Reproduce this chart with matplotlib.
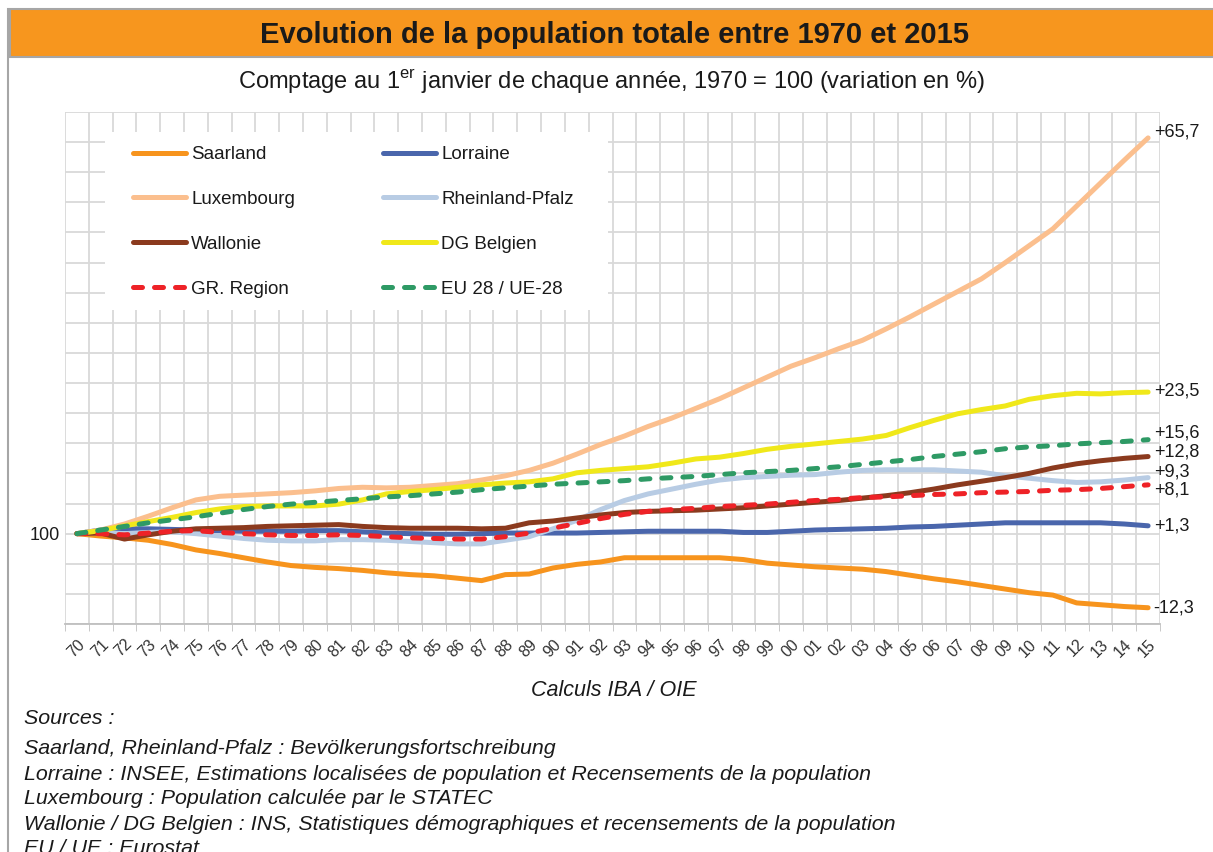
import matplotlib
matplotlib.use("Agg")
import matplotlib.pyplot as plt
from matplotlib.patches import Rectangle
from matplotlib.lines import Line2D

plt.rcParams['font.family'] = ['Liberation Sans', 'DejaVu Sans']
plt.rcParams['mathtext.fontset'] = 'custom'
plt.rcParams['mathtext.rm'] = 'Liberation Sans'

# années 1970 - 2015 (étiquettes sur 2 chiffres)
years = ['70', '71', '72', '73', '74', '75', '76', '77', '78', '79',
         '80', '81', '82', '83', '84', '85', '86', '87', '88', '89',
         '90', '91', '92', '93', '94', '95', '96', '97', '98', '99',
         '00', '01', '02', '03', '04', '05', '06', '07', '08', '09',
         '10', '11', '12', '13', '14', '15']

saarland = [100, 99.6, 99.3, 98.9, 98.2, 97.3, 96.7, 96.0, 95.3, 94.7,
            94.4, 94.2, 93.9, 93.5, 93.2, 93.0, 92.6, 92.2, 93.2, 93.3,
            94.3, 94.9, 95.3, 96.0, 96.0, 96.0, 96.0, 96.0, 95.7, 95.1,
            94.8, 94.5, 94.3, 94.1, 93.7, 93.1, 92.5, 92.0, 91.4, 90.8,
            90.2, 89.8, 88.5, 88.2, 87.9, 87.7]
lorraine = [100, 100.6, 100.8, 100.8, 100.7, 100.6, 100.5, 100.4, 100.4, 100.4,
            100.5, 100.5, 100.3, 100.1, 100.0, 99.9, 99.9, 100.0, 100.1, 100.1,
            100.1, 100.1, 100.2, 100.3, 100.4, 100.4, 100.4, 100.4, 100.2, 100.2,
            100.4, 100.6, 100.7, 100.8, 100.9, 101.1, 101.2, 101.4, 101.6, 101.8,
            101.8, 101.8, 101.8, 101.8, 101.6, 101.3]
luxembourg = [100, 100.6, 101.6, 102.9, 104.3, 105.6, 106.2, 106.4, 106.6, 106.8,
              107.1, 107.5, 107.7, 107.6, 107.7, 108.0, 108.3, 108.9, 109.6, 110.5,
              111.7, 113.2, 114.8, 116.2, 117.8, 119.2, 120.8, 122.4, 124.2, 126.0,
              127.8, 129.2, 130.7, 132.1, 134.0, 136.0, 138.1, 140.2, 142.3, 145.0,
              147.8, 150.6, 154.4, 158.2, 162.0, 165.7]
rheinland_pfalz = [100, 100.2, 100.0, 100.2, 100.3, 100.0, 99.6, 99.2, 98.9, 98.8,
                   98.8, 99.0, 99.0, 98.9, 98.7, 98.5, 98.3, 98.3, 98.9, 99.5,
                   100.8, 102.2, 104.0, 105.5, 106.6, 107.4, 108.2, 108.9, 109.3, 109.5,
                   109.7, 109.8, 110.2, 110.5, 110.6, 110.6, 110.6, 110.4, 110.2, 109.6,
                   109.2, 108.8, 108.5, 108.6, 108.9, 109.3]
wallonie = [100, 100.1, 99.1, 99.8, 100.4, 100.8, 100.9, 101.0, 101.2, 101.3,
            101.4, 101.5, 101.2, 101.0, 100.9, 100.9, 100.9, 100.8, 100.9, 101.8,
            102.1, 102.6, 103.1, 103.5, 103.7, 103.8, 103.9, 104.1, 104.3, 104.6,
            104.9, 105.2, 105.5, 105.9, 106.3, 106.8, 107.4, 108.1, 108.7, 109.3,
            110.0, 110.9, 111.6, 112.1, 112.5, 112.8]
dg_belgien = [100, 100.5, 101.3, 102.0, 102.7, 103.5, 104.1, 104.5, 104.6, 104.6,
              104.6, 104.9, 105.6, 106.6, 107.0, 107.3, 107.7, 108.1, 108.4, 108.6,
              109.1, 110.1, 110.5, 110.8, 111.1, 111.7, 112.4, 112.7, 113.3, 114.0,
              114.5, 114.9, 115.3, 115.7, 116.3, 117.6, 118.8, 119.9, 120.6, 121.2,
              122.3, 122.9, 123.3, 123.2, 123.4, 123.5]
gr_region = [100, 100.0, 99.8, 100.1, 100.4, 100.5, 100.2, 100.0, 99.8, 99.7,
             99.7, 99.8, 99.7, 99.5, 99.3, 99.2, 99.1, 99.1, 99.5, 100.1,
             100.9, 101.7, 102.5, 103.2, 103.7, 104.0, 104.2, 104.5, 104.7, 104.9,
             105.2, 105.5, 105.7, 106.0, 106.1, 106.3, 106.5, 106.6, 106.8, 106.9,
             107.0, 107.2, 107.3, 107.5, 107.8, 108.1]
eu28 = [100, 100.6, 101.2, 101.8, 102.3, 102.8, 103.4, 104.0, 104.5, 104.9,
        105.2, 105.5, 105.8, 106.1, 106.3, 106.6, 106.9, 107.3, 107.6, 107.9,
        108.2, 108.4, 108.6, 108.8, 109.1, 109.3, 109.5, 109.8, 110.1, 110.3,
        110.5, 110.8, 111.1, 111.5, 111.9, 112.3, 112.8, 113.2, 113.6, 114.1,
        114.4, 114.6, 114.9, 115.1, 115.3, 115.6]

# étiquettes de fin de courbe et petit décalage vertical (en points)
end_labels = ['-12,3', '+1,3', '+65,7', '+9,3', '+12,8', '+23,5', '+8,1', '+15,6']
end_offsets = [0, 0, 4, 4, 3, 1, -4, 5]

series = [
    ('Saarland', saarland, '#F7941D', '-'),
    ('Lorraine', lorraine, '#4A66AC', '-'),
    ('Luxembourg', luxembourg, '#FBBF8E', '-'),
    ('Rheinland-Pfalz', rheinland_pfalz, '#B8CCE4', '-'),
    ('Wallonie', wallonie, '#8B3A1E', '-'),
    ('DG Belgien', dg_belgien, '#F0E81A', '-'),
    ('GR. Region', gr_region, '#EE2227', '--'),
    ('EU 28 / UE-28', eu28, '#2E9A65', '--'),
]

W, H = 1213, 852
fig = plt.figure(figsize=(W / 100, H / 100), dpi=100)

# bandeau du titre
fig.patches.append(Rectangle((10 / W, 1 - 57 / H), 1, 48 / H, transform=fig.transFigure,
                             facecolor='#F7961E', edgecolor='#A6A6A6', lw=1.5))
fig.add_artist(Line2D([8 / W, 8 / W], [0, 1 - 9 / H], transform=fig.transFigure,
                      color='#A6A6A6', lw=1.5))
fig.text(614 / W, 1 - 35 / H, 'Evolution de la population totale entre 1970 et 2015',
         ha='center', va='center', fontsize=21, fontweight='bold', color='#1a1a1a')
fig.text(612 / W, 1 - 82 / H,
         r'Comptage au 1$^{\mathrm{er}}$ janvier de chaque année, 1970 = 100 (variation en %)',
         ha='center', va='center', fontsize=17, color='#1a1a1a')

ax = fig.add_axes([65 / W, 1 - 624 / H, 1095 / W, 512 / H])
x = list(range(len(years)))

for name, vals, col, ls in series:
    if ls == '--':
        ax.plot(x, vals, color=col, lw=3.6, linestyle=(0, (1.8, 2.4)),
                dash_capstyle='round', solid_capstyle='round', label=name, zorder=3)
    else:
        ax.plot(x, vals, color=col, lw=3.6, solid_capstyle='round', label=name, zorder=3)

for (name, vals, col, ls), lab, off in zip(series, end_labels, end_offsets):
    ax.annotate(lab, (x[-1], vals[-1]), xytext=(4, off), textcoords='offset points',
                ha='left', va='center', fontsize=13, color='#1a1a1a', annotation_clip=False)

ax.set_xlim(-0.5, len(years) - 0.5)
ax.set_ylim(85, 170)
ax.set_xticks(x)
ax.set_xticklabels(years, rotation=45, ha='right', rotation_mode='anchor', fontsize=11.5,
                   color='#333333')
ax.set_xticks([i - 0.5 for i in range(len(years) + 1)], minor=True)
ax.tick_params(axis='x', which='major', length=0, pad=9)
ax.tick_params(axis='x', which='minor', length=5, color='#BFBFBF')
ax.set_yticks(range(85, 171, 5))
ax.set_yticklabels(['100' if v == 100 else '' for v in range(85, 171, 5)], fontsize=13,
                   color='#1a1a1a')
ax.tick_params(axis='y', length=0, pad=4)
ax.grid(True, which='minor', axis='x', color='#D9D9D9', lw=1.3)
ax.grid(True, which='major', axis='y', color='#D9D9D9', lw=1.3)
ax.set_axisbelow(True)
for s in ['top', 'right', 'left']:
    ax.spines[s].set_visible(False)
ax.spines['bottom'].set_color('#BFBFBF')
ax.spines['bottom'].set_linewidth(1.3)

# fond blanc de la légende
ax.add_patch(Rectangle((40 / 1095, 314 / 512), 503 / 1095, 178 / 512,
                       transform=ax.transAxes, facecolor='white', edgecolor='none', zorder=1))
h, l = ax.get_legend_handles_labels()
order = [0, 2, 4, 6, 1, 3, 5, 7]
ax.legend([h[i] for i in order], [l[i] for i in order], ncol=2, frameon=False,
          loc='upper left', bbox_to_anchor=(68 / 1095, 1 - 34 / 512), borderaxespad=0,
          borderpad=0, fontsize=13.5, handlelength=2.83, handletextpad=0.27,
          labelspacing=1.48, columnspacing=4.7, labelcolor='#1a1a1a')

fig.text(614 / W, 1 - 690 / H, 'Calculs IBA / OIE', ha='center', va='center',
         fontsize=15.5, style='italic', color='#1a1a1a')
notes = ['Sources :',
         '',
         'Saarland, Rheinland-Pfalz : Bevölkerungsfortschreibung',
         'Lorraine : INSEE, Estimations localisées de population et Recensements de la population',
         'Luxembourg : Population calculée par le STATEC',
         'Wallonie / DG Belgien : INS, Statistiques démographiques et recensements de la population',
         'EU / UE : Eurostat']
ys = [719, 0, 749, 774, 799, 824, 849]
for t, yy in zip(notes, ys):
    if t:
        fig.text(24 / W, 1 - yy / H, t, ha='left', va='center', fontsize=15.4,
                 style='italic', color='#1a1a1a')

fig.savefig('out.png', dpi=100)
